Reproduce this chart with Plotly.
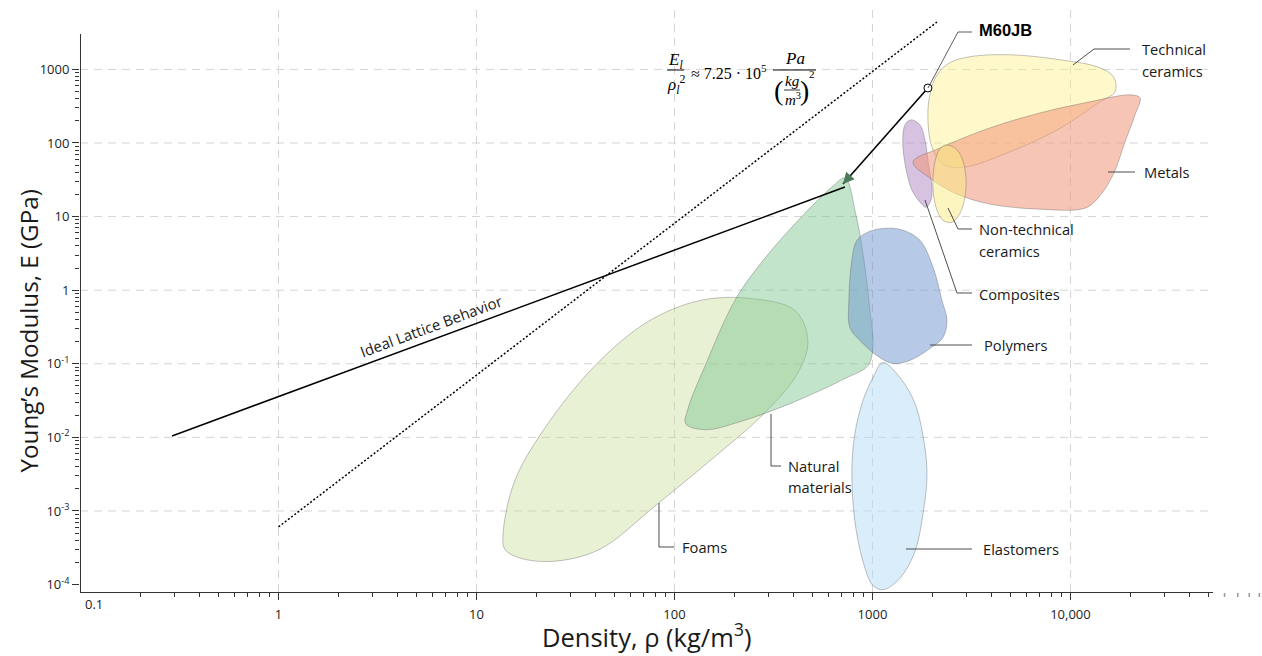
import numpy as np
import plotly.graph_objects as go

# ---------------- data (density kg/m^3, Young's modulus GPa) ----------------
foams_rho = [13.6, 15.6, 23.5, 42.1, 75.2, 135, 241, 406, 472, 421, 286, 151, 79.8, 42.1, 24.9, 16.6, 13.9]
foams_E = [4.56e-4, 2.56e-3, 0.0168, 0.111, 0.388, 0.726, 0.773, 0.531, 0.207, 0.0759, 0.0216, 4.8e-3, 1.17e-3, 3.03e-4, 2.08e-4, 2.29e-4, 3.03e-4]

natural_rho = [726, 826, 906, 971, 1006, 949, 726, 383, 214, 143, 114, 117, 143, 202, 286, 456, 624]
natural_E = [33.4, 10.4, 2.55, 0.531, 0.177, 0.0945, 0.0629, 0.0287, 0.0163, 0.0127, 0.0153, 0.0245, 0.0945, 0.726, 2.71, 11.1, 25.2]

poly_rho = [1197, 1425, 1738, 2023, 2245, 2378, 2270, 1950, 1545, 1270, 1054, 865, 769, 760, 787, 835, 971]
poly_E = [6.95, 6.53, 4.77, 2.05, 0.726, 0.388, 0.228, 0.161, 0.111, 0.101, 0.129, 0.207, 0.311, 0.726, 2.55, 4.77, 6.32]

elast_rho = [1130, 1377, 1641, 1841, 1884, 1799, 1641, 1377, 1130, 1006, 895, 815, 787, 815, 895, 1006]
elast_E = [0.104, 0.0649, 0.0287, 7.21e-3, 2.82e-3, 9.1e-4, 2.85e-4, 1.22e-4, 8.5e-5, 9.7e-5, 2.08e-4, 7.3e-4, 3.51e-3, 0.0112, 0.0315, 0.0649]

comp_rho = [1582, 1738, 1841, 1928, 1998, 1974, 1862, 1738, 1582, 1493, 1425, 1442, 1493]
comp_E = [206, 176, 110, 47.1, 25.2, 16.7, 13.4, 15.7, 22.9, 39.0, 88.3, 160, 193]

ntc_rho = [2378, 2610, 2831, 2965, 2931, 2767, 2523, 2270, 2118, 2023, 2046, 2143, 2270]
ntc_E = [94.0, 85.5, 62.5, 34.4, 18.4, 11.1, 8.39, 8.93, 12.2, 22.9, 47.1, 75.4, 91.0]

tc_rho = [1906, 1950, 2118, 2460, 3105, 4943, 8851, 14090, 16600, 16790, 14090, 8550, 4775, 2931, 2323, 2023]
tc_E = [206, 451, 844, 1230, 1486, 1581, 1352, 1051, 769, 495, 362, 150, 73.1, 47.1, 50.1, 80.4]

met_rho = [1602, 2193, 3917, 7015, 12530, 20000, 22440, 21180, 18850, 16400, 13770, 11830, 7015, 3917, 2610, 1950]
met_E = [55.1, 85.5, 160, 256, 362, 451, 410, 241, 103, 36.6, 17.8, 13.0, 12.6, 14.8, 20.8, 33.4]

ideal_rho = [0.29, 726]
ideal_E = [0.01045, 25.2]

dotted_rho = [1.0, 2118]
dotted_E = [6.07e-4, 4406]

m60_rho = 1906
m60_E = 559
arrow_tip_rho = 710
arrow_tip_E = 27.7

x_tickvals = [1, 10, 100, 1000, 10000]
x_ticktext = ["1", "10", "100", "1000", "10,000"]
y_tickvals = [1e-4, 1e-3, 1e-2, 1e-1, 1, 10, 100, 1000]
y_ticktext = ["10<sup>-4</sup>", "10<sup>-3</sup>", "10<sup>-2</sup>", "10<sup>-1</sup>", "1", "10", "100", "1000"]
grid_x = [1, 10, 100, 1000, 10000]
grid_y = [1e-3, 1e-2, 1e-1, 1, 10, 100, 1000]
x_minor = [d * 10 ** e for e in range(-1, 5) for d in range(2, 10) if d * 10 ** e <= 50000]
y_minor = [d * 10.0 ** e for e in range(-4, 3) for d in range(2, 10)]
x_ghost_ticks = [60000, 70000, 80000, 90000]

# ---------------- layout geometry ----------------
W, H = 1262, 656
ML, MR, MT, MB = 80, 49, 5, 64
XR = [-1.0025, 4.72]
YR = [-4.101, 3.875]
PW = W - ML - MR
PH = H - MT - MB


def px(x):
    return (x - ML) / PW


def py(y):
    return (H - MB - y) / PH


fig = go.Figure()

GRID = "#d4d4d4"
for gx in grid_x:
    fig.add_trace(go.Scatter(x=[gx, gx], y=[10 ** YR[0], 10 ** YR[1]], mode="lines",
                             line=dict(color=GRID, width=1, dash="8px,6px"), hoverinfo="skip"))
for gy in grid_y:
    fig.add_trace(go.Scatter(x=[10 ** XR[0], 10 ** XR[1]], y=[gy, gy], mode="lines",
                             line=dict(color=GRID, width=1, dash="8px,6px"), hoverinfo="skip"))


def blob(rx, ey, fill, name):
    fig.add_trace(go.Scatter(
        x=list(rx) + [rx[0]], y=list(ey) + [ey[0]], mode="lines", name=name,
        line=dict(shape="spline", smoothing=1.0, color="rgba(95,95,95,0.55)", width=0.7),
        fill="toself", fillcolor=fill, hoverinfo="name"))


blob(foams_rho, foams_E, "rgba(200,220,150,0.40)", "Foams")
blob(natural_rho, natural_E, "rgba(120,195,140,0.45)", "Natural materials")
blob(poly_rho, poly_E, "rgba(110,150,210,0.50)", "Polymers")
blob(elast_rho, elast_E, "rgba(180,220,245,0.50)", "Elastomers")
blob(comp_rho, comp_E, "rgba(175,135,195,0.50)", "Composites")
blob(tc_rho, tc_E, "rgba(255,240,140,0.45)", "Technical ceramics")
blob(met_rho, met_E, "rgba(240,150,120,0.55)", "Metals")
blob(ntc_rho, ntc_E, "rgba(250,235,130,0.50)", "Non-technical ceramics")

# lines
fig.add_trace(go.Scatter(x=ideal_rho, y=ideal_E, mode="lines",
                         line=dict(color="black", width=1.5), hoverinfo="skip"))
fig.add_trace(go.Scatter(x=dotted_rho, y=dotted_E, mode="lines",
                         line=dict(color="black", width=1.5, dash="2px,2px"), hoverinfo="skip"))
fig.add_trace(go.Scatter(x=[m60_rho, arrow_tip_rho], y=[m60_E, arrow_tip_E], mode="lines",
                         line=dict(color="black", width=1.6), hoverinfo="skip"))
fig.add_trace(go.Scatter(x=[m60_rho], y=[m60_E], mode="markers",
                         marker=dict(size=8, color="white", line=dict(color="black", width=1)),
                         hoverinfo="skip", cliponaxis=False))

LABEL_FONT = "Open Sans"
TXT = "#1a1a1a"
ann = []


def lab(text, x, y, size=14.7, xanchor="left", family=LABEL_FONT, color=TXT, **kw):
    ann.append(dict(text=text, x=px(x), y=py(y), xref="paper", yref="paper", showarrow=False,
                    xanchor=xanchor, yanchor="middle", font=dict(family=family, size=size, color=color), **kw))


# category labels
lab("Technical", 1140, 49)
lab("ceramics", 1140, 71)
lab("Metals", 1142, 172)
lab("Non-technical", 977, 229)
lab("ceramics", 977, 251)
lab("Composites", 977, 294)
lab("Polymers", 982, 345)
lab("Elastomers", 981, 549)
lab("Natural", 786, 466)
lab("materials", 786, 487)
lab("Foams", 680, 547)
lab("<b>M60JB</b>", 977, 30, size=16.5, family="Liberation Sans", color="black")
lab("Ideal Lattice Behavior", 431, 326, size=15, xanchor="center", textangle=-20.3)

# axis titles and special tick label
lab("Density, ρ (kg/m<sup>3</sup>)", 647, 635, size=25.5, xanchor="center")
lab("Young’s Modulus, E (GPa)", 27.5, 331, size=24.2, xanchor="center", textangle=-90)
lab("0.1", 94, 604, size=13, xanchor="center", color="#222")

# formula
SERIF = "Liberation Serif"
lab("<i>E<sub>l</sub></i>", 675, 61, size=17, xanchor="center", family=SERIF, color="black")
lab("<i>ρ<sub>l</sub></i><sup>2</sup>", 676, 84, size=17, xanchor="center", family=SERIF, color="black")
lab("≈ 7.25 · 10<sup>5</sup>", 689, 72, size=16, family=SERIF, color="black")
lab("<i>Pa</i>", 795, 59, size=17, xanchor="center", family=SERIF, color="black")
lab("(", 778, 90, size=28, xanchor="center", family=SERIF, color="black")
lab(")", 805, 90, size=28, xanchor="center", family=SERIF, color="black")
lab("<i>kg</i>", 792, 81, size=15, xanchor="center", family=SERIF, color="black")
lab("<i>m</i><sup>3</sup>", 793, 99, size=15, xanchor="center", family=SERIF, color="black")
lab("2", 812, 74, size=11, xanchor="center", family=SERIF, color="black")

# arrowhead (green) at natural materials
ann.append(dict(x=np.log10(arrow_tip_rho), y=np.log10(arrow_tip_E), xref="x", yref="y",
                ax=7, ay=-8, showarrow=True, arrowhead=2, arrowsize=1.5, arrowwidth=1.5,
                arrowcolor="#4d7d58", standoff=0, text=""))

shapes = []


def path(points, color="#3a3a3a", width=0.9, dash="solid"):
    d = "M " + " L ".join(f"{px(a):.5f},{py(b):.5f}" for a, b in points)
    shapes.append(dict(type="path", path=d, xref="paper", yref="paper",
                       line=dict(color=color, width=width, dash=dash)))


# leader lines
path([(1073, 65), (1094, 49), (1130, 49)])
path([(1108, 172), (1135, 172)])
path([(948, 208), (958, 229), (972, 229)])
path([(925, 200), (957, 293), (972, 293)])
path([(930, 345), (972, 345)])
path([(906, 549), (972, 549)])
path([(771, 414), (771, 466), (781, 466)])
path([(659, 503), (659, 547), (674, 547)])
path([(928, 88), (958, 32), (972, 32)], color="#333", width=0.8)
# formula fraction bars
path([(667, 70), (684, 70)], color="black", width=1)
path([(773, 70), (816, 70)], color="black", width=1)
path([(784, 90), (800, 90)], color="black", width=0.8)
# y axis line (shorter than plot area)
path([(80.5, 34), (80.5, 592)], color="#333", width=1)
# faded tick marks continuing past the end of the x axis
for v in x_ghost_ticks:
    xp = (np.log10(v) - XR[0]) / (XR[1] - XR[0])
    shapes.append(dict(type="line", xref="paper", yref="paper", x0=xp, x1=xp,
                       y0=-1 / PH, y1=-5 / PH, line=dict(color="#999", width=1.5)))

tickfont = dict(family=LABEL_FONT, size=13, color="#222")
fig.update_layout(
    width=W, height=H,
    margin=dict(l=ML, r=MR, t=MT, b=MB),
    plot_bgcolor="white", paper_bgcolor="white",
    showlegend=False,
    annotations=ann, shapes=shapes,
    xaxis=dict(type="log", range=XR, showgrid=False, zeroline=False, showline=True,
               linecolor="#333", linewidth=1, ticks="outside", ticklen=7, tickcolor="#333",
               tickmode="array", tickvals=x_tickvals, ticktext=x_ticktext, tickfont=tickfont,
               ticklabelstandoff=3,
               minor=dict(ticks="outside", ticklen=4, tickcolor="#333", tickmode="array",
                          tickvals=x_minor, showgrid=False)),
    yaxis=dict(type="log", range=YR, showgrid=False, zeroline=False, showline=False,
               ticks="outside", ticklen=7, tickcolor="#333",
               tickmode="array", tickvals=y_tickvals, ticktext=y_ticktext, tickfont=tickfont,
               minor=dict(ticks="outside", ticklen=4, tickcolor="#333", tickmode="array",
                          tickvals=y_minor, showgrid=False)),
)

fig.write_html("out.html", config={"displayModeBar": False},
               post_script="document.body.style.margin='0px';document.body.style.overflow='hidden';")
